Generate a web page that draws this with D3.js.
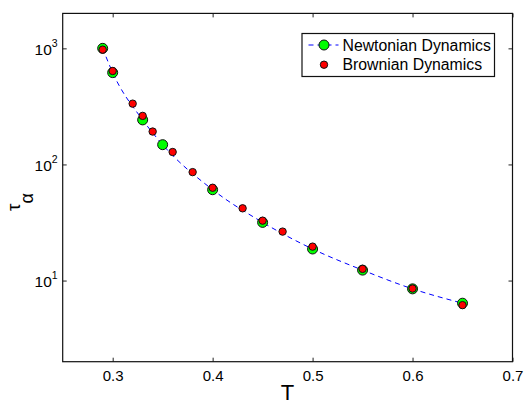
<!DOCTYPE html>
<html>
<head>
<meta charset="utf-8">
<script src="https://cdn.jsdelivr.net/npm/d3@7"></script>
<style>
    body { margin: 0; background: #fff; }
    #tau-chart text { font-family: "Liberation Sans", Arial, sans-serif; fill: #000; }
</style>
</head>
<body>
<div id="tau-chart"></div>
<script>

// temperatures and relaxation times
let newtonT   = [0.29, 0.30, 0.33, 0.35, 0.40, 0.45, 0.50, 0.55, 0.60, 0.65];
let newtonTau = [1000, 618, 242, 148, 60.6, 31.7, 18.7, 12.3, 8.48, 6.38];

let brownT   = [0.29, 0.30, 0.32, 0.33, 0.34, 0.36, 0.38, 0.40, 0.43, 0.45, 0.47, 0.50, 0.55, 0.60, 0.65];
let brownTau = [975, 638, 334, 262, 192, 128, 85.9, 63, 41.9, 32.8, 26.4, 19.6, 12.6, 8.53, 6.14];

let xTicks = [0.3, 0.4, 0.5, 0.6, 0.7];
let yTicks = [10, 100, 1000];

let legendLabels = ["Newtonian Dynamics", "Brownian Dynamics"];


class TauPlot {

    constructor(parentElement) {
        this.parentElement = parentElement;
        this.newton = newtonT.map((t, i) => ({T: t, tau: newtonTau[i]}));
        this.brown = brownT.map((t, i) => ({T: t, tau: brownTau[i]}));

        this.initVis();
    }

    initVis() {
        let vis = this;

        vis.margin = {top: 13.4, right: 12.5, bottom: 38.3, left: 62.7};
        vis.width = 525 - vis.margin.left - vis.margin.right;
        vis.height = 400 - vis.margin.top - vis.margin.bottom;

        vis.root = d3.select("#" + vis.parentElement).append("svg")
            .attr("width", 525)
            .attr("height", 400);

        vis.svg = vis.root.append("g")
            .attr("transform", "translate(" + vis.margin.left + "," + vis.margin.top + ")");

        // scales
        vis.x = d3.scaleLinear()
            .domain([0.25, 0.7])
            .range([0, vis.width]);

        vis.y = d3.scaleLog()
            .domain([2, 2000])
            .range([vis.height, 0]);

        // axes, matlab style: ticks pointing inwards on all four sides
        vis.xAxis = d3.axisBottom(vis.x)
            .tickValues(xTicks)
            .tickSize(-4)
            .tickPadding(9)
            .tickFormat(d3.format(".1f"));

        vis.xAxisTop = d3.axisTop(vis.x)
            .tickValues(xTicks)
            .tickSize(-4)
            .tickFormat("");

        vis.yAxis = d3.axisLeft(vis.y)
            .tickValues(yTicks)
            .tickSize(-4)
            .tickFormat("");

        vis.yAxisRight = d3.axisRight(vis.y)
            .tickValues(yTicks)
            .tickSize(-4)
            .tickFormat("");

        vis.xAxisGroup = vis.svg.append("g")
            .attr("class", "x-axis axis")
            .attr("transform", "translate(0," + vis.height + ")")
            .call(vis.xAxis);

        vis.svg.append("g")
            .attr("class", "axis")
            .call(vis.xAxisTop);

        vis.yAxisGroup = vis.svg.append("g")
            .attr("class", "y-axis axis")
            .call(vis.yAxis);

        vis.svg.append("g")
            .attr("class", "axis")
            .attr("transform", "translate(" + vis.width + ",0)")
            .call(vis.yAxisRight);

        vis.svg.selectAll(".axis .domain").remove();
        vis.svg.selectAll(".axis .tick line")
            .attr("stroke", "#222")
            .attr("stroke-width", 1);

        vis.xAxisGroup.selectAll("text")
            .attr("font-size", "15px")
            .attr("dy", "0.71em");

        // y tick labels as 10 with a superscript exponent
        let yLabels = vis.svg.append("g").attr("class", "y-labels")
            .selectAll("text")
            .data(yTicks)
            .enter().append("text")
            .attr("x", -5)
            .attr("y", d => vis.y(d) + 6.5)
            .attr("text-anchor", "end")
            .attr("font-size", "15.5px");
        yLabels.append("tspan").text("10");
        yLabels.append("tspan")
            .attr("font-size", "10.5px")
            .attr("dy", "-8")
            .text(d => Math.round(Math.log10(d)));

        // box around plot
        vis.svg.append("rect")
            .attr("width", vis.width)
            .attr("height", vis.height)
            .attr("fill", "none")
            .attr("stroke", "#111")
            .attr("stroke-width", 1.2);

        // axis titles
        vis.root.append("text")
            .attr("x", vis.margin.left + vis.width / 2)
            .attr("y", 399.5)
            .attr("text-anchor", "middle")
            .attr("font-size", "22px")
            .text("T");

        let yTitle = vis.root.append("text")
            .attr("transform", "translate(20,202) rotate(-90)")
            .attr("text-anchor", "middle")
            .attr("font-size", "19px");
        yTitle.append("tspan").text("τ");
        yTitle.append("tspan").attr("dy", "13").attr("font-size", "18px").text("α");

        vis.line = d3.line()
            .x(d => vis.x(d.T))
            .y(d => vis.y(d.tau))
            .curve(d3.curveMonotoneX);

        vis.updateVis();
    }

    updateVis() {
        let vis = this;

        // dashed curve through the newtonian points
        vis.svg.append("path")
            .datum(vis.newton)
            .attr("d", vis.line)
            .attr("fill", "none")
            .attr("stroke", "#0000ff")
            .attr("stroke-width", 1)
            .attr("stroke-dasharray", "5,4");

        vis.svg.selectAll(".newton-dot")
            .data(vis.newton)
            .enter().append("circle")
            .attr("class", "newton-dot")
            .attr("cx", d => vis.x(d.T))
            .attr("cy", d => vis.y(d.tau))
            .attr("r", 5)
            .attr("fill", "#00ff00")
            .attr("stroke", "#111")
            .attr("stroke-width", 1);

        vis.svg.selectAll(".brown-dot")
            .data(vis.brown)
            .enter().append("circle")
            .attr("class", "brown-dot")
            .attr("cx", d => vis.x(d.T))
            .attr("cy", d => vis.y(d.tau))
            .attr("r", 3.7)
            .attr("fill", "#ff0000")
            .attr("stroke", "#111")
            .attr("stroke-width", 1);

        // legend
        let legend = vis.root.append("g")
            .attr("class", "legend")
            .attr("transform", "translate(302,33.5)");

        legend.append("rect")
            .attr("width", 192.5)
            .attr("height", 43)
            .attr("fill", "#fff")
            .attr("stroke", "#111")
            .attr("stroke-width", 1.2);

        legend.append("line")
            .attr("x1", 5.5).attr("x2", 36.5)
            .attr("y1", 11.5).attr("y2", 11.5)
            .attr("stroke", "#0000ff")
            .attr("stroke-dasharray", "5,4")
            .attr("stroke-dashoffset", -1);

        legend.append("circle")
            .attr("cx", 22).attr("cy", 11.5).attr("r", 5)
            .attr("fill", "#00ff00").attr("stroke", "#111");

        legend.append("circle")
            .attr("cx", 22).attr("cy", 31.2).attr("r", 3.7)
            .attr("fill", "#ff0000").attr("stroke", "#111");

        legend.selectAll(".legend-label")
            .data(legendLabels)
            .enter().append("text")
            .attr("class", "legend-label")
            .attr("x", 40.5)
            .attr("y", (d, i) => 17 + i * 19.7)
            .attr("font-size", "15.8px")
            .text(d => d);
    }
}

let tauPlot = new TauPlot("tau-chart");

</script>
</body>
</html>
